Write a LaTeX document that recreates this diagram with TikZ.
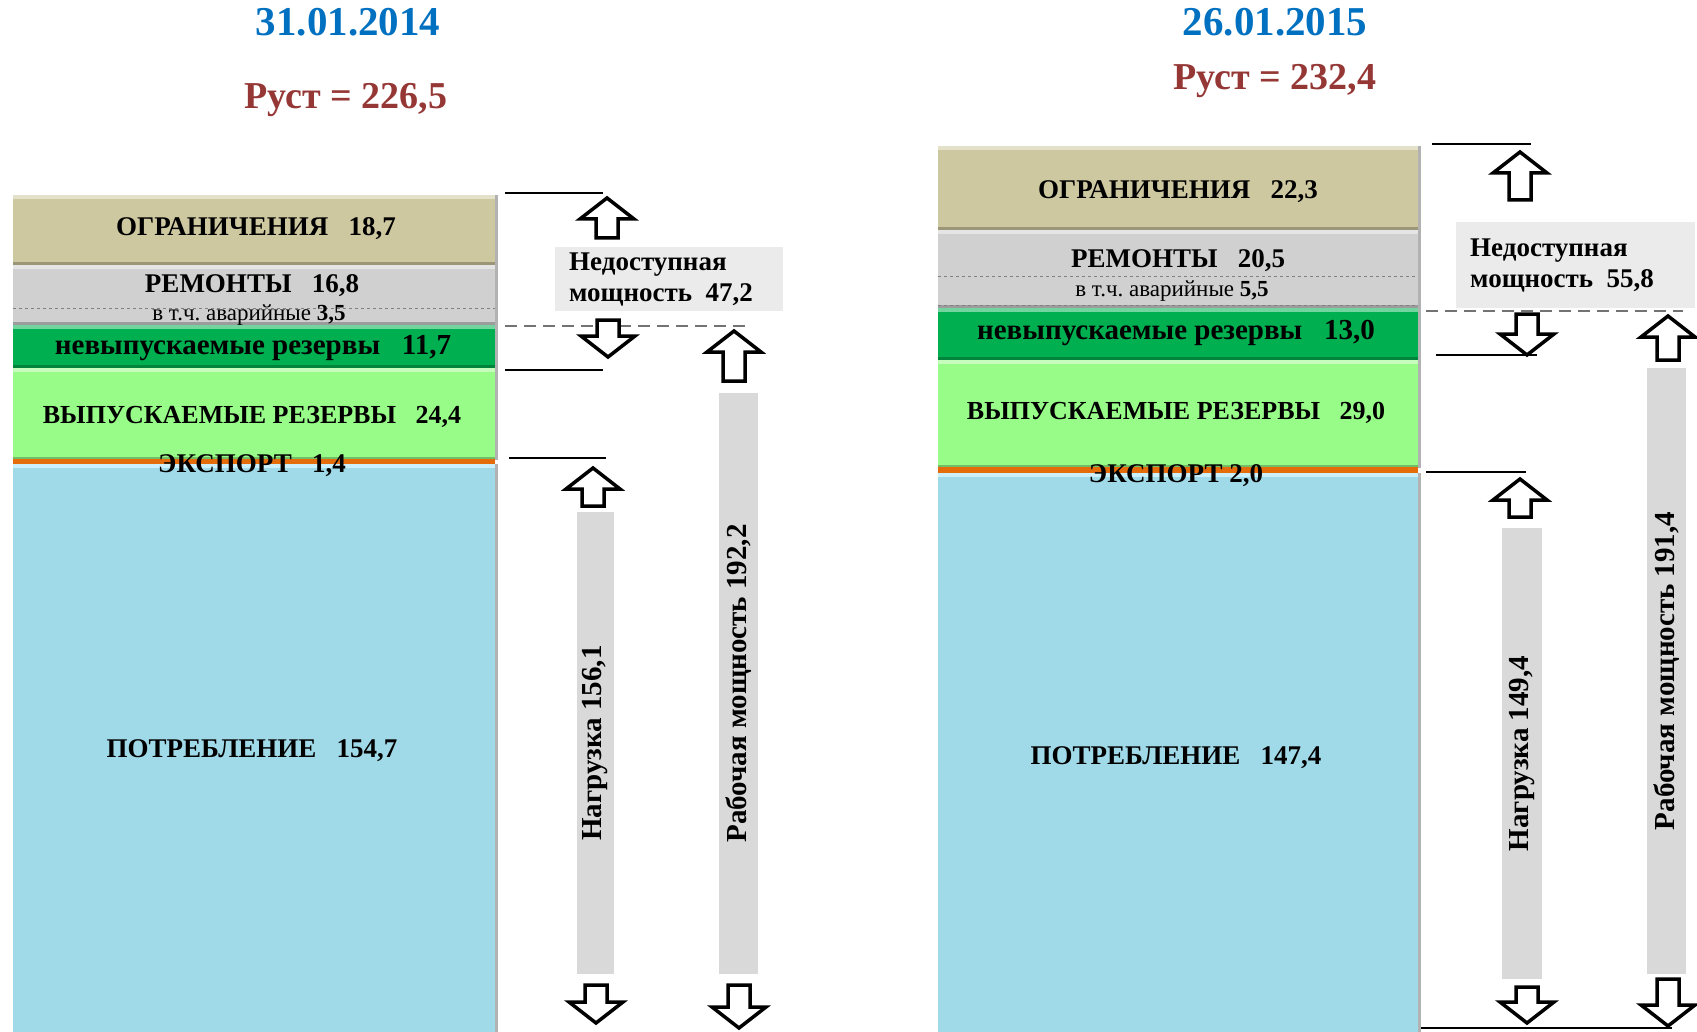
\documentclass[tikz,border=0pt]{standalone}
\usepackage{fontspec}
\setmainfont{Liberation Serif}
\usepackage{tikz}
\usetikzlibrary{positioning}
\frenchspacing

\definecolor{datecol}{RGB}{0,112,192}
\definecolor{rustcol}{RGB}{149,55,53}
\definecolor{limcol}{RGB}{206,200,160}
\definecolor{repcol}{RGB}{208,208,208}
\definecolor{darkgreen}{RGB}{0,176,80}
\definecolor{lightgreen}{RGB}{152,252,136}
\definecolor{expcol}{RGB}{228,108,10}
\definecolor{conscol}{RGB}{160,218,232}
\definecolor{barcol}{RGB}{217,217,217}
\definecolor{boxcol}{RGB}{235,235,235}

% one layer of a column: x1, y1, x2, y2, colour
\newcommand{\layerbox}[5]{%
  \fill[#5] (#1,#2) rectangle (#3,#4);
  \fill[#5!55!white] (#1,#2) rectangle (#3,#2+4);
  \fill[#5!75!black] (#1,#4-3) rectangle (#3,#4);
  \fill[black!30] (#3,#2) rectangle (#3+3,#4);
}
% block arrows: x, top, bottom
\newcommand{\upblock}[3]{%
  \draw[blockarrow] (#1,#2) -- (#1+27,#2+21) -- (#1+11,#2+21) -- (#1+11,#3)
    -- (#1-11,#3) -- (#1-11,#2+21) -- (#1-27,#2+21) -- cycle;
}
\newcommand{\downblock}[3]{%
  \draw[blockarrow] (#1-11,#2) -- (#1+11,#2) -- (#1+11,#3-21) -- (#1+27,#3-21)
    -- (#1,#3) -- (#1-27,#3-21) -- (#1-11,#3-21) -- cycle;
}

\begin{document}
\begin{tikzpicture}[x=1pt,y=-1pt]
        \tikzstyle{blockarrow}=[draw=black, fill=white, line width=3.5pt, line join=miter]
        \tikzstyle{level}=[black, line width=2pt]
        \tikzstyle{gapline}=[black!55, line width=2pt, dash pattern=on 12pt off 7pt]
        \tikzstyle{title}=[font=\fontsize{41}{44}\selectfont\bfseries, inner sep=0pt]
        \tikzstyle{rust}=[font=\fontsize{38}{42}\selectfont\bfseries, inner sep=0pt, text=rustcol]
        \tikzstyle{layertext}=[font=\fontsize{27}{30}\selectfont\bfseries, inner sep=0pt]
        \tikzstyle{subtext}=[font=\fontsize{23}{25}\selectfont, inner sep=0pt]
        \tikzstyle{gapbox}=[fill=boxcol, anchor=north west, align=left, inner xsep=14pt,
                            font=\fontsize{27}{31}\selectfont\bfseries]
        \tikzstyle{vbar}=[fill=barcol, rotate=90, inner sep=0pt,
                          font=\fontsize{29}{30}\selectfont\bfseries]

        \useasboundingbox (0,0) rectangle (1697,1032);

        % titles
        \node[title, text=datecol] (date1) at (348,22) {31.01.2014};
        \node[rust] (rust1) at (346,100) {Руст = 226,5};
        \node[title, text=datecol] (date2) at (1275,22) {26.01.2015};
        \node[rust] (rust2) at (1275,81) {Руст = 232,4};

        % column 2014
        \layerbox{13}{195}{495}{265}{limcol}
        \layerbox{13}{265}{495}{325}{repcol}
        \layerbox{13}{325}{495}{368}{darkgreen}
        \layerbox{13}{368}{495}{460}{lightgreen}
        \fill[expcol] (13,459) rectangle (495,464);
        \layerbox{13}{464}{495}{1040}{conscol}
        \fill[cyan!20] (13,464) rectangle (495,468);
        \draw[black!50, dashed, thin] (13,308) -- (495,308);

        \node[layertext] (lim1) at (256,229) {ОГРАНИЧЕНИЯ\enskip\ 18,7};
        \node[layertext] (rep1) at (252,286) {РЕМОНТЫ\enskip\ 16,8};
        \node[subtext] (em1) at (249,315) {в т.ч. аварийные \textbf{3,5}};
        \node[layertext, font=\fontsize{29}{30}\selectfont\bfseries] (nrel1) at (253,348) {невыпускаемые резервы\enskip\ 11,7};
        \node[layertext, font=\fontsize{26}{30}\selectfont\bfseries] (rel1) at (252,417) {ВЫПУСКАЕМЫЕ РЕЗЕРВЫ\enskip\ 24,4};
        \node[layertext] (exp1) at (252,466) {ЭКСПОРТ\enskip\ 1,4};
        \node[layertext] (cons1) at (252,751) {ПОТРЕБЛЕНИЕ\enskip\ 154,7};

        % scale 2014
        \draw[level] (505,193) -- (603,193);
        \draw[gapline] (505,326) -- (747,326);
        \draw[level] (505,370) -- (603,370);
        \draw[level] (509,458) -- (606,458);
        \node[gapbox, minimum width=228, minimum height=64, text width=200] (gap1) at (555,247)
            {Недоступная\\мощность\enskip 47,2};
        \upblock{607}{198}{238}
        \downblock{608}{320}{357}
        \upblock{734}{331}{381}
        \downblock{739}{985}{1028}
        \upblock{593}{468}{506}
        \downblock{596}{985}{1023}
        \node[vbar, minimum width=581, minimum height=39] (work1) at (738.5,683.5) {Рабочая мощность 192,2};
        \node[vbar, minimum width=462, minimum height=37] (load1) at (595.5,743) {Нагрузка 156,1};

        % column 2015
        \layerbox{938}{146}{1418}{230}{limcol}
        \layerbox{938}{230}{1418}{308}{repcol}
        \layerbox{938}{308}{1418}{360}{darkgreen}
        \layerbox{938}{360}{1418}{468}{lightgreen}
        \fill[expcol] (938,467) rectangle (1418,473);
        \layerbox{938}{473}{1418}{1040}{conscol}
        \fill[cyan!20] (938,473) rectangle (1418,477);
        \draw[black!50, dashed, thin] (938,276) -- (1418,276) (938,305) -- (1418,305);

        \node[layertext] (lim2) at (1178,192) {ОГРАНИЧЕНИЯ\enskip\ 22,3};
        \node[layertext] (rep2) at (1178,261) {РЕМОНТЫ\enskip\ 20,5};
        \node[subtext] (em2) at (1172,291) {в т.ч. аварийные \textbf{5,5}};
        \node[layertext, font=\fontsize{29}{30}\selectfont\bfseries] (nrel2) at (1176,333) {невыпускаемые резервы\enskip\ 13,0};
        \node[layertext, font=\fontsize{26}{30}\selectfont\bfseries] (rel2) at (1176,413) {ВЫПУСКАЕМЫЕ РЕЗЕРВЫ\enskip\ 29,0};
        \node[layertext] (exp2) at (1176,476) {ЭКСПОРТ 2,0};
        \node[layertext] (cons2) at (1176,758) {ПОТРЕБЛЕНИЕ\enskip\ 147,4};

        % scale 2015
        \draw[level] (1432,144) -- (1531,144);
        \draw[gapline] (1426,311) -- (1683,311);
        \draw[level] (1436,355) -- (1537,355);
        \draw[level] (1426,472) -- (1526,472);
        \draw[level] (1421,1028) -- (1672,1028);
        \node[gapbox, minimum width=239, minimum height=86, text width=211] (gap2) at (1456,222)
            {Недоступная\\мощность\enskip 55,8};
        \upblock{1520}{152}{200}
        \downblock{1527}{314}{355}
        \upblock{1668}{316}{360}
        \downblock{1668}{979}{1026}
        \upblock{1520}{479}{517}
        \downblock{1527}{987}{1023}
        \node[vbar, minimum width=606, minimum height=39] (work2) at (1666.5,671) {Рабочая мощность 191,4};
        \node[vbar, minimum width=451, minimum height=40] (load2) at (1522,753.5) {Нагрузка 149,4};
\end{tikzpicture}
\end{document}
